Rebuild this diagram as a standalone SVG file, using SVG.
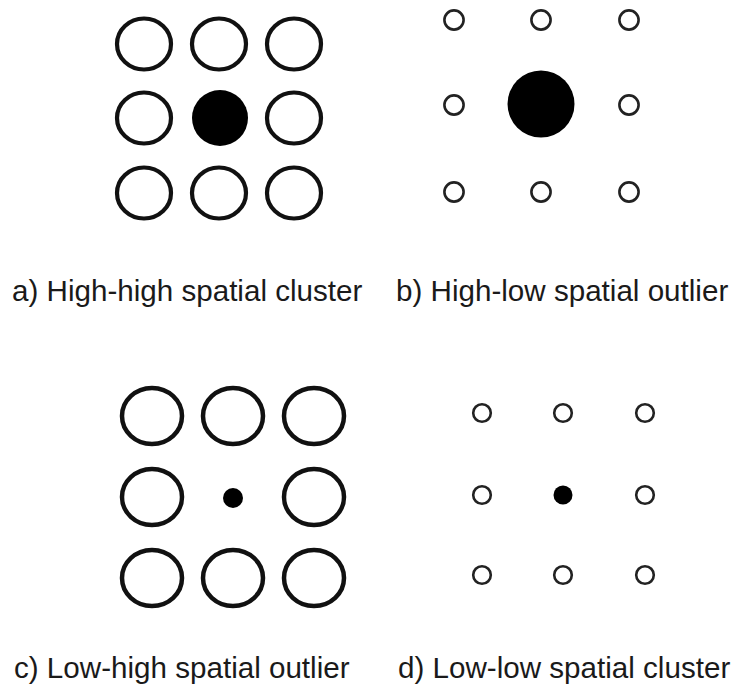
<svg xmlns="http://www.w3.org/2000/svg" width="736" height="686" viewBox="0 0 736 686">
<style>
.big{fill:#fff;stroke:#111;stroke-width:4.2}
.bigc{fill:#fff;stroke:#111;stroke-width:4.5}
.sm{fill:#fff;stroke:#222;stroke-width:2.6}
.dot{fill:#000}
.lbl{font-family:"Liberation Sans",Arial,Helvetica,sans-serif;font-size:29.6px;fill:#1a1a1a}
</style>
<rect width="736" height="686" fill="#fff"/>
<g id="panel-a">
<ellipse class="big" cx="144" cy="44" rx="27" ry="25.5"/>
<ellipse class="big" cx="219" cy="44" rx="27" ry="25.5"/>
<ellipse class="big" cx="294" cy="44" rx="27" ry="25.5"/>
<ellipse class="big" cx="144" cy="118" rx="27" ry="25.5"/>
<circle class="dot" cx="220" cy="118" r="28"/>
<ellipse class="big" cx="294" cy="118" rx="27" ry="25.5"/>
<ellipse class="big" cx="144" cy="193" rx="27" ry="25.5"/>
<ellipse class="big" cx="219" cy="193" rx="27" ry="25.5"/>
<ellipse class="big" cx="294" cy="193" rx="27" ry="25.5"/>
<text class="lbl" x="12" y="301">a) High-high spatial cluster</text>
</g>
<g id="panel-b">
<circle class="sm" cx="454" cy="20" r="9.6"/>
<circle class="sm" cx="541" cy="20" r="9.6"/>
<circle class="sm" cx="629" cy="20" r="9.6"/>
<circle class="sm" cx="454" cy="105" r="9.6"/>
<circle class="dot" cx="541" cy="104" r="33.5"/>
<circle class="sm" cx="629" cy="105" r="9.6"/>
<circle class="sm" cx="454" cy="192" r="9.6"/>
<circle class="sm" cx="541" cy="192" r="9.6"/>
<circle class="sm" cx="629" cy="192" r="9.6"/>
<text class="lbl" x="396" y="301">b) High-low spatial outlier</text>
</g>
<g id="panel-c">
<ellipse class="bigc" cx="152" cy="416" rx="30" ry="28"/>
<ellipse class="bigc" cx="233" cy="416" rx="30" ry="28"/>
<ellipse class="bigc" cx="314" cy="416" rx="30" ry="28"/>
<ellipse class="bigc" cx="152" cy="497" rx="30" ry="28"/>
<circle class="dot" cx="233" cy="498" r="10"/>
<ellipse class="bigc" cx="314" cy="497" rx="30" ry="28"/>
<ellipse class="bigc" cx="152" cy="578" rx="30" ry="28"/>
<ellipse class="bigc" cx="233" cy="578" rx="30" ry="28"/>
<ellipse class="bigc" cx="314" cy="578" rx="30" ry="28"/>
<text class="lbl" x="14" y="678">c) Low-high spatial outlier</text>
</g>
<g id="panel-d">
<circle class="sm" cx="482" cy="413" r="8.8"/>
<circle class="sm" cx="563" cy="413" r="8.8"/>
<circle class="sm" cx="645" cy="413" r="8.8"/>
<circle class="sm" cx="482" cy="495" r="8.8"/>
<circle class="dot" cx="563" cy="495" r="9.5"/>
<circle class="sm" cx="645" cy="495" r="8.8"/>
<circle class="sm" cx="482" cy="575" r="8.8"/>
<circle class="sm" cx="563" cy="575" r="8.8"/>
<circle class="sm" cx="645" cy="575" r="8.8"/>
<text class="lbl" x="398" y="678">d) Low-low spatial cluster</text>
</g>
<g id="connectors"/>
</svg>
